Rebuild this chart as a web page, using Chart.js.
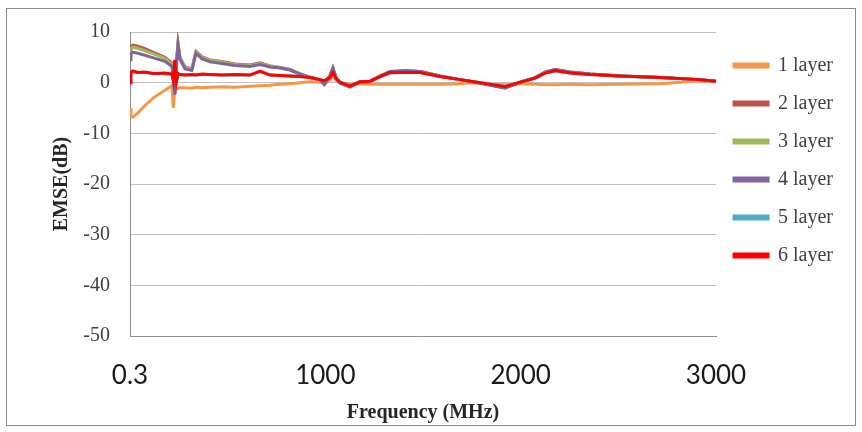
<!DOCTYPE html>
<html>
<head>
<meta charset="utf-8">
<script src="https://cdn.jsdelivr.net/npm/chart.js@4/dist/chart.umd.min.js"></script>
<style>
    body { margin: 0; background: #fff; }
    #frame { position: absolute; left: 6px; top: 8px; width: 848px; height: 416px; border: 1px solid #8c8c8c; pointer-events: none; }
    canvas { position: absolute; left: 0; top: 0; }
</style>
</head>
<body>
<canvas id="emseGraf" width="862" height="432"></canvas>
<div id="frame"></div>
<script>
// frequency points (MHz)
var freq = [0.3, 5, 15, 40, 77, 120, 179, 215, 222, 230, 238, 246, 256, 282, 317, 338,
    370, 410, 470, 538, 614, 666, 717, 768, 819, 870, 922, 973, 995, 1024, 1039, 1055,
    1075, 1126, 1178, 1229, 1280, 1331, 1408, 1485, 1587, 1690, 1741, 1792, 1843, 1920, 1997, 2074,
    2125, 2176, 2253, 2355, 2509, 2714, 2918, 3000];

// EMSE (dB) per number of layers
var layer1 = [-5.0, -6.5, -6.8, -6.0, -4.5, -3.0, -1.5, -0.6, -5.0, -1.0, -1.0, -1.2, -1.0, -1.0, -1.1, -0.9,
    -1.0, -0.9, -0.8, -0.9, -0.7, -0.6, -0.5, -0.3, -0.2, 0.0, 0.2, 0.1, -0.1, 0.5, 1.5, 0.5,
    0.0, -0.3, -0.2, -0.3, -0.3, -0.3, -0.3, -0.3, -0.3, -0.2, 0.0, -0.1, -0.3, -0.4, -0.2, -0.3,
    -0.4, -0.4, -0.3, -0.4, -0.3, -0.2, 0.4, 0.2];
var layer2 = [5.8, 7.1, 7.4, 7.2, 6.7, 6.0, 5.0, 3.9, 1.0, -2.0, 4.0, 7.8, 5.0, 3.1, 2.7, 6.2,
    5.1, 4.5, 4.2, 3.7, 3.5, 3.9, 3.3, 3.0, 2.6, 1.8, 1.1, 0.6, -0.2, 1.5, 2.9, 1.0,
    0.0, -0.8, 0.2, 0.3, 1.3, 2.1, 2.3, 2.2, 1.3, 0.6, 0.3, 0.0, -0.4, -1.0, 0.1, 1.0,
    2.0, 2.6, 2.1, 1.7, 1.3, 1.0, 0.6, 0.3];
var layer3 = [5.3, 6.7, 7.0, 6.8, 6.3, 5.7, 4.8, 3.7, 0.8, -2.2, 3.8, 7.7, 4.9, 3.0, 2.6, 6.1,
    5.0, 4.4, 4.1, 3.6, 3.4, 3.8, 3.3, 3.0, 2.6, 1.8, 1.1, 0.6, -0.3, 1.4, 2.9, 1.0,
    0.0, -0.8, 0.2, 0.3, 1.4, 2.2, 2.3, 2.2, 1.3, 0.6, 0.3, 0.0, -0.4, -1.0, 0.1, 1.0,
    2.0, 2.5, 2.1, 1.7, 1.3, 1.0, 0.6, 0.3];
var layer4 = [4.5, 5.8, 6.0, 5.8, 5.4, 4.9, 4.2, 3.2, 0.5, -2.4, 3.5, 7.4, 4.6, 2.7, 2.4, 5.8,
    4.7, 4.1, 3.8, 3.4, 3.2, 3.6, 3.1, 2.9, 2.5, 1.7, 1.0, 0.5, -0.4, 1.3, 2.9, 0.9,
    -0.1, -0.9, 0.1, 0.2, 1.3, 2.2, 2.4, 2.2, 1.3, 0.6, 0.3, -0.1, -0.5, -1.1, 0.0, 1.0,
    2.1, 2.6, 2.1, 1.7, 1.3, 1.0, 0.6, 0.3];
var layer5 = [0, 1.9, 2.2, 2.0, 2.0, 1.8, 1.8, 1.6, 0.5, 4.3, 0.3, 1.7, 1.6, 1.5, 1.5, 1.5,
    1.6, 1.6, 1.5, 1.5, 1.5, 2.2, 1.5, 1.4, 1.3, 1.2, 1.0, 0.6, 0.4, 1.0, 1.9, 0.8,
    0.1, -0.7, 0.2, 0.3, 1.2, 1.9, 2.0, 2.0, 1.2, 0.6, 0.3, 0.0, -0.3, -0.8, 0.1, 0.9,
    1.9, 2.3, 1.9, 1.6, 1.3, 1.0, 0.6, 0.3];
var layer6 = [0, 2.0, 2.3, 2.0, 2.1, 1.8, 1.9, 1.7, 0.4, 4.5, 0.2, 1.8, 1.6, 1.5, 1.6, 1.5,
    1.7, 1.6, 1.5, 1.6, 1.5, 2.3, 1.5, 1.4, 1.3, 1.2, 1.0, 0.6, 0.4, 1.0, 2.0, 0.8,
    0.1, -0.7, 0.2, 0.3, 1.2, 2.0, 2.0, 2.0, 1.2, 0.6, 0.3, 0.0, -0.3, -0.8, 0.1, 0.9,
    1.9, 2.4, 1.9, 1.6, 1.3, 1.0, 0.6, 0.3];

var seriesNames = ["1 layer", "2 layer", "3 layer", "4 layer", "5 layer", "6 layer"];
var seriesColors = ["#f79646", "#c0504d", "#9bbb59", "#8064a2", "#4bacc6", "#ff0000"];
var seriesData = [layer1, layer2, layer3, layer4, layer5, layer6];

var xTicks = [0.3, 1000, 2000, 3000];
var yMin = -50, yMax = 10, yStep = 10;

function points(values) {
    var pts = [];
    for (var i = 0; i < freq.length; i++) {
        pts.push({x: freq[i], y: values[i]});
    }
    return pts;
}

// last layer first so it is painted on top, legend is reversed back
var datasets = [];
for (var k = seriesNames.length - 1; k >= 0; k--) {
    datasets.push({
        label: seriesNames[k],
        data: points(seriesData[k]),
        borderColor: seriesColors[k],
        backgroundColor: seriesColors[k],
        borderWidth: 3,
        pointRadius: 0,
        tension: 0
    });
}

var serif = "'Liberation Serif', 'Times New Roman', serif";

var ctx = document.getElementById('emseGraf').getContext('2d');
var emseGraf = new Chart(ctx, {
    type: 'line',
    data: {datasets: datasets},
    options: {
        responsive: false,
        animation: false,
        devicePixelRatio: 1,
        layout: {padding: {top: 20, right: 19, bottom: 7, left: 0}},
        plugins: {
            tooltip: {enabled: false},
            legend: {
                position: 'right',
                align: 'start',
                reverse: true,
                title: {display: true, text: ' ', padding: {top: 8, bottom: 0}, font: {size: 8}},
                labels: {
                    boxWidth: 34,
                    boxHeight: 3,
                    padding: 18,
                    color: '#404040',
                    font: {family: serif, size: 20}
                }
            }
        },
        scales: {
            x: {
                type: 'linear',
                min: 0.3,
                max: 3000,
                afterBuildTicks: function (axis) {
                    axis.ticks = xTicks.map(function (v) { return {value: v}; });
                },
                afterFit: function (axis) { axis.height = 89; },
                ticks: {
                    padding: 24,
                    maxRotation: 0,
                    color: '#1a1a1a',
                    font: {family: "Lato, 'Open Sans', sans-serif", size: 26},
                    callback: function (value) { return String(value); }
                },
                grid: {display: false, drawTicks: false},
                border: {display: true, color: '#8c8c8c', width: 1},
                title: {
                    display: true,
                    text: 'Frequency (MHz)',
                    color: '#262626',
                    padding: {top: 0, bottom: 0},
                    font: {family: serif, size: 20, weight: 'bold'}
                }
            },
            y: {
                min: yMin,
                max: yMax,
                afterFit: function (axis) { axis.width = 130; },
                ticks: {
                    stepSize: yStep,
                    padding: 20,
                    color: '#404040',
                    font: {family: serif, size: 20}
                },
                grid: {color: '#c0c0c0', lineWidth: 1, drawTicks: false},
                border: {display: true, color: '#8c8c8c', width: 1},
                title: {
                    display: true,
                    text: 'EMSE(dB)',
                    color: '#262626',
                    padding: {top: 50, bottom: 0},
                    font: {family: serif, size: 20, weight: 'bold'}
                }
            }
        }
    }
});
</script>
</body>
</html>
